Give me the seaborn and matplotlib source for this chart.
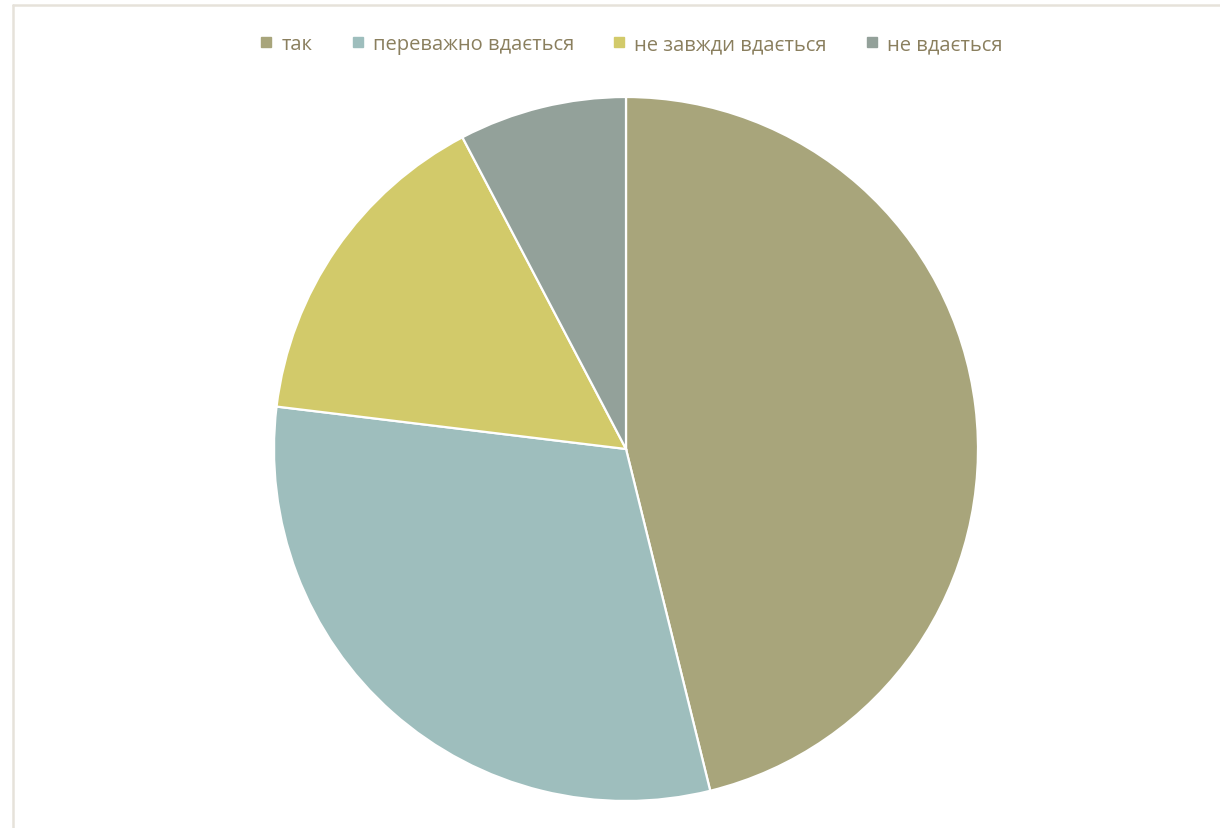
import matplotlib
matplotlib.use("Agg")
import matplotlib.pyplot as plt
from matplotlib.lines import Line2D
import seaborn as sns

categories = ["так", "переважно вдається", "не завжди вдається", "не вдається"]
counts = [6, 4, 2, 1]
colors = ["#A8A57B", "#9EBEBD", "#D2CA6A", "#93A19A"]

sns.set_theme(style="white")
plt.rcParams["font.family"] = ["Open Sans", "DejaVu Sans"]

fig = plt.figure(figsize=(12.2, 8.29), dpi=100)
fig.patch.set_facecolor("white")

# light frame: left and top edges of the chart area
x0, y0 = 13 / 1220, 1 - 6 / 829
frame_kw = dict(transform=fig.transFigure, color="#E6E2DA", linewidth=1.8)
fig.add_artist(Line2D([x0, x0], [0, y0], **frame_kw))
fig.add_artist(Line2D([x0, 1], [y0, y0], **frame_kw))

ax = fig.add_axes([274 / 1220, 27 / 829, 704 / 1220, 704 / 829])
ax.pie(counts, colors=colors, startangle=90, counterclock=False, radius=1,
       wedgeprops=dict(edgecolor="white", linewidth=1.6))
ax.set_xlim(-1, 1)
ax.set_ylim(-1, 1)
ax.set_aspect("equal")
ax.axis("off")

handles = [Line2D([0], [0], marker="s", linestyle="none", markersize=7.5,
                  markerfacecolor=c, markeredgecolor=c) for c in colors]
fig.legend(handles, categories, loc="center", bbox_to_anchor=(631 / 1220, 1 - 45 / 829),
           ncol=4, frameon=False, fontsize=14.5, labelcolor="#8A7F5E",
           handlelength=0.7, handletextpad=0.4, columnspacing=1.9)

fig.savefig("out.png", dpi=100)
